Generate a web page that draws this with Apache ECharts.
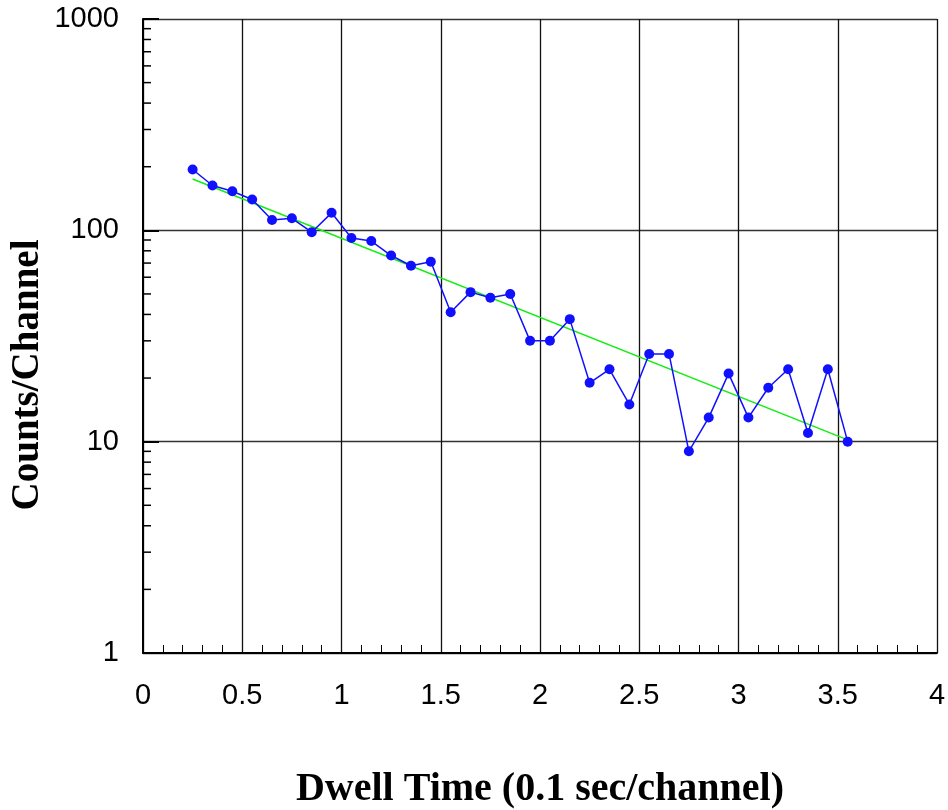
<!DOCTYPE html>
<html>
<head>
<meta charset="utf-8">
<script src="https://cdn.jsdelivr.net/npm/echarts@6/dist/echarts.min.js"></script>
<style>
  html, body { margin: 0; padding: 0; background: #fff; }
  #chart { width: 948px; height: 810px; }
</style>
</head>
<body>
<div id="chart"></div>
<script>
// Dwell time of each channel (0.1 s per channel), channel centres
const dwellTime = [
  0.25, 0.35, 0.45, 0.55, 0.65, 0.75, 0.85, 0.95, 1.05, 1.15, 1.25, 1.35,
  1.45, 1.55, 1.65, 1.75, 1.85, 1.95, 2.05, 2.15, 2.25, 2.35, 2.45, 2.55,
  2.65, 2.75, 2.85, 2.95, 3.05, 3.15, 3.25, 3.35, 3.45, 3.55
];
// Measured counts in each channel
const counts = [
  194, 163, 153, 140, 112, 114, 98, 121, 92, 89, 76, 68,
  71, 41, 51, 48, 50, 30, 30, 38, 19, 22, 15, 26,
  26, 9, 13, 21, 13, 18, 22, 11, 22, 10
];
// Exponential fit: endpoints (a straight line on the log axis)
const fitTime = [0.25, 3.55];
const fitCounts = [175, 10.2];

// Axis ticks
const xTicks = [0, 0.5, 1, 1.5, 2, 2.5, 3, 3.5, 4];
const yDecades = [1, 10, 100, 1000];
const yMinorTicks = [2, 3, 4, 5, 6, 7, 8, 9,
                     20, 30, 40, 50, 60, 70, 80, 90,
                     200, 300, 400, 500, 600, 700, 800, 900];

const chart = echarts.init(document.getElementById('chart'), null, { renderer: 'canvas' });

const labelFont = '"Liberation Sans", Arial, sans-serif';
const nameFont = '"Liberation Serif", "Times New Roman", serif';

chart.setOption({
  animation: false,
  backgroundColor: '#ffffff',
  grid: {
    left: 143, right: 11, top: 19, bottom: 157,
    containLabel: false,
    outerBoundsMode: 'none'
  },
  xAxis: {
    type: 'value',
    min: xTicks[0],
    max: xTicks[xTicks.length - 1],
    interval: 0.5,
    name: 'Dwell Time (0.1 sec/channel)',
    nameLocation: 'middle',
    nameGap: 117,
    nameTextStyle: { fontFamily: nameFont, fontWeight: 'bold', fontSize: 40, color: '#000' },
    axisLine: { show: true, onZero: false, lineStyle: { color: '#000', width: 2 } },
    axisTick: { show: false, inside: true, length: 8 },
    minorTick: { show: true, splitNumber: 5, length: 8, lineStyle: { color: '#000', width: 1 } },
    axisLabel: {
      fontFamily: labelFont, fontSize: 29, color: '#000', margin: 28,
      formatter: v => String(v)
    },
    splitLine: { show: true, lineStyle: { color: '#111', width: 1.3 } }
  },
  yAxis: {
    type: 'log',
    logBase: 10,
    min: yDecades[0],
    max: yDecades[yDecades.length - 1],
    axisLine: { show: true, lineStyle: { color: '#000', width: 2 } },
    axisTick: { show: true, inside: true, length: 16, lineStyle: { color: '#000', width: 2 } },
    axisLabel: {
      fontFamily: labelFont, fontSize: 29, color: '#000', margin: 24,
      formatter: v => String(Math.round(v))
    },
    splitLine: { show: true, lineStyle: { color: '#333', width: 1.3 } }
  },
  graphic: [{
    type: 'text',
    x: 28,
    y: 375,
    rotation: Math.PI / 2,
    style: {
      text: 'Counts/Channel',
      font: 'bold 39px ' + nameFont,
      fill: '#000',
      textAlign: 'center',
      textVerticalAlign: 'middle'
    }
  }],
  series: [
    {
      // minor ticks for the logarithmic y axis (2..9 per decade)
      type: 'custom',
      silent: true,
      z: 5,
      clip: false,
      data: yMinorTicks.map(v => [0, v]),
      renderItem: (params, api) => {
        const p = api.coord([0, api.value(1)]);
        return {
          type: 'line',
          shape: { x1: p[0], y1: p[1], x2: p[0] + 8, y2: p[1] },
          style: { stroke: '#000', lineWidth: 1.5 }
        };
      }
    },
    {
      name: 'Fit',
      type: 'line',
      data: fitTime.map((t, i) => [t, fitCounts[i]]),
      showSymbol: false,
      symbol: 'none',
      lineStyle: { color: '#11ee11', width: 1.5 },
      z: 3
    },
    {
      name: 'Counts',
      type: 'line',
      data: dwellTime.map((t, i) => [t, counts[i]]),
      symbol: 'circle',
      symbolSize: 10,
      itemStyle: { color: '#1010ff' },
      lineStyle: { color: '#1010ff', width: 1.5 },
      z: 4
    }
  ]
});
</script>
</body>
</html>
